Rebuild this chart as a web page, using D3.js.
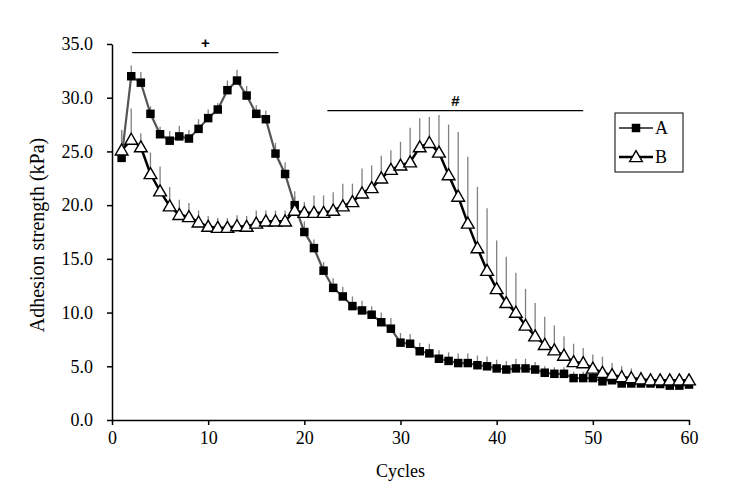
<!DOCTYPE html>
<html>
<head>
  <meta charset="utf-8">
  <title>adhesion-cycles</title>
  <style>
    body { margin: 0; background: #fff; }
    svg { display: block; }
    svg text { font-family: "Liberation Serif", "Times New Roman", Times, "DejaVu Serif", serif; fill: #000; }
    .axis path, .axis line { stroke: #000; stroke-width: 1.5px; }
    .axis text { font-size: 18px; }
  </style>
  <script src="https://cdn.jsdelivr.net/npm/d3@7"></script>
</head>
<body>
<script>

  // cycles 1..60
  var cycles = d3.range(1, 61);

  // series A (filled squares) mean and SD
  var meanA = [24.4, 32.0, 31.4, 28.5, 26.6, 26.0, 26.4, 26.2, 27.1, 28.1,
               28.9, 30.7, 31.6, 30.2, 28.5, 28.0, 24.8, 22.9, 20.0, 17.5,
               16.0, 13.9, 12.3, 11.5, 10.6, 10.2, 9.8, 9.1, 8.5, 7.2,
               7.1, 6.4, 6.2, 5.7, 5.5, 5.3, 5.3, 5.1, 5.0, 4.8,
               4.7, 4.8, 4.8, 4.7, 4.4, 4.3, 4.3, 3.9, 3.9, 3.9,
               3.6, 3.7, 3.4, 3.4, 3.4, 3.4, 3.35, 3.2, 3.2, 3.3];
  var sdA = [2.6, 1.0, 1.0, 0.7, 0.7, 0.9, 1.0, 0.8, 0.9, 0.8,
             0.6, 0.9, 1.0, 0.9, 0.8, 0.8, 1.0, 1.1, 1.3, 1.0,
             0.8, 0.8, 0.9, 0.9, 0.9, 0.9, 0.8, 0.9, 1.0, 0.9,
             0.9, 0.8, 0.9, 0.8, 0.8, 0.9, 0.9, 0.9, 0.9, 0.8,
             0.8, 0.9, 0.9, 0.7, 0.6, 0.6, 0.6, 0.6, 0.6, 0.6,
             0.6, 0.6, 0.6, 0.6, 0.6, 0.6, 0.6, 0.6, 0.6, 0.6];

  // series B (open triangles) mean and SD
  var meanB = [25.1, 26.1, 25.4, 22.9, 21.3, 19.9, 19.1, 18.9, 18.4, 18.0,
               17.9, 17.9, 18.05, 18.0, 18.3, 18.5, 18.5, 18.5, 19.5, 19.3,
               19.3, 19.3, 19.5, 19.9, 20.3, 21.1, 21.6, 22.5, 23.3, 23.7,
               24.0, 25.4, 25.8, 24.9, 22.8, 20.8, 18.3, 16.0, 13.9, 12.2,
               10.9, 10.0, 8.8, 7.8, 7.0, 6.5, 6.0, 5.4, 5.3, 4.8,
               4.4, 4.2, 4.0, 3.9, 3.8, 3.7, 3.7, 3.7, 3.7, 3.7];
  var sdB = [1.9, 2.9, 1.3, 2.0, 2.3, 1.8, 1.4, 1.3, 1.1, 1.0,
             0.9, 0.9, 1.0, 1.0, 1.2, 1.0, 1.0, 1.0, 1.3, 1.0,
             1.6, 1.6, 1.7, 2.1, 1.7, 2.3, 2.1, 2.1, 1.8, 2.2,
             3.2, 2.7, 2.4, 3.5, 4.7, 6.0, 6.2, 5.7, 5.8, 4.5,
             4.3, 3.7, 3.4, 3.1, 2.6, 2.3, 1.8, 1.7, 1.4, 1.3,
             1.5, 1.1, 1.0, 0.9, 0.7, 0.6, 0.6, 0.5, 0.5, 0.4];

  var xTicks = [0, 10, 20, 30, 40, 50, 60];
  var yTicks = [0, 5, 10, 15, 20, 25, 30, 35];

  // significance bars: [from cycle, to cycle, y level, symbol]
  var sigBars = [[2.1, 17.3, 34.2, "+"], [22.4, 49.0, 28.8, "#"]];

  var width = 750, height = 504;
  var margin = {top: 44, right: 61, bottom: 84, left: 112};
  var w = width - margin.left - margin.right;
  var h = height - margin.top - margin.bottom;

  var svg = d3.select("body").append("svg")
    .attr("width", width)
    .attr("height", height);

  var g = svg.append("g")
    .attr("transform", "translate(" + margin.left + "," + margin.top + ")");

  var x = d3.scaleLinear().domain([0, 60]).range([0, w]);
  var y = d3.scaleLinear().domain([0, 35]).range([h, 0]);

  g.append("g")
    .attr("class", "axis axis--x")
    .attr("transform", "translate(0," + h + ")")
    .call(d3.axisBottom(x).tickValues(xTicks).tickSize(5).tickSizeOuter(0).tickPadding(6).tickFormat(d3.format("d")));

  g.append("g")
    .attr("class", "axis axis--y")
    .call(d3.axisLeft(y).tickValues(yTicks).tickSize(5).tickSizeOuter(0).tickPadding(14).tickFormat(d3.format(".1f")));

  // d3 axis puts font-family="sans-serif" on the group, drop it
  g.selectAll(".axis").attr("font-family", null).attr("font-size", null);

  // axis titles
  svg.append("text")
    .attr("transform", "translate(44," + (margin.top + h / 2 + 3) + ") rotate(-90)")
    .attr("text-anchor", "middle")
    .style("font-size", "20px")
    .text("Adhesion strength (kPa)");

  svg.append("text")
    .attr("x", margin.left + w / 2)
    .attr("y", 477)
    .attr("text-anchor", "middle")
    .style("font-size", "18px")
    .text("Cycles");

  var dataA = cycles.map(function(c, i) { return {c: c, m: meanA[i], sd: sdA[i]}; });
  var dataB = cycles.map(function(c, i) { return {c: c, m: meanB[i], sd: sdB[i]}; });

  // error bars (upper only)
  function errBars(data) {
    g.append("g").selectAll("line")
      .data(data)
      .enter().append("line")
        .attr("x1", function(d) { return x(d.c); })
        .attr("x2", function(d) { return x(d.c); })
        .attr("y1", function(d) { return y(d.m); })
        .attr("y2", function(d) { return y(d.m + d.sd); })
        .attr("stroke", "#808080")
        .attr("stroke-width", 1.3);
  }
  errBars(dataA);
  errBars(dataB);

  var line = d3.line()
    .x(function(d) { return x(d.c); })
    .y(function(d) { return y(d.m); });

  // series A
  g.append("path")
    .datum(dataA)
    .attr("d", line)
    .attr("fill", "none")
    .attr("stroke", "#555")
    .attr("stroke-width", 2.2);

  var sq = d3.symbol().type(d3.symbolSquare).size(72);
  var tri = d3.symbol().type(d3.symbolTriangle).size(70);

  g.append("g").selectAll("path")
    .data(dataA)
    .enter().append("path")
      .attr("d", sq)
      .attr("transform", function(d) { return "translate(" + x(d.c) + "," + y(d.m) + ")"; })
      .attr("fill", "#000");

  // series B
  g.append("path")
    .datum(dataB)
    .attr("d", line)
    .attr("fill", "none")
    .attr("stroke", "#000")
    .attr("stroke-width", 2.5);

  g.append("g").selectAll("path")
    .data(dataB)
    .enter().append("path")
      .attr("d", tri)
      .attr("transform", function(d) { return "translate(" + x(d.c) + "," + (y(d.m) + 1) + ")"; })
      .attr("fill", "#fff")
      .attr("stroke", "#000")
      .attr("stroke-width", 1.4);

  // significance annotations
  sigBars.forEach(function(s) {
    g.append("line")
      .attr("x1", x(s[0])).attr("x2", x(s[1]))
      .attr("y1", y(s[2])).attr("y2", y(s[2]))
      .attr("stroke", "#000").attr("stroke-width", 1.3);
    g.append("text")
      .attr("x", (x(s[0]) + x(s[1])) / 2)
      .attr("y", y(s[2]) - 5)
      .attr("text-anchor", "middle")
      .style("font-size", "15px")
      .style("font-weight", "bold")
      .style("font-family", "Liberation Sans, Arial, sans-serif")
      .text(s[3]);
  });

  // legend
  var lg = svg.append("g").attr("transform", "translate(615,113)");
  lg.append("rect")
    .attr("width", 68).attr("height", 59)
    .attr("fill", "#fff").attr("stroke", "#000").attr("stroke-width", 1);

  var legendItems = [
    {name: "A", stroke: "#555", sw: 2.2, sym: sq, fill: "#000", outline: "none"},
    {name: "B", stroke: "#000", sw: 2.5, sym: tri, fill: "#fff", outline: "#000"}
  ];
  legendItems.forEach(function(it, i) {
    var yy = 15 + i * 29;
    lg.append("line")
      .attr("x1", 4).attr("x2", 38).attr("y1", yy).attr("y2", yy)
      .attr("stroke", it.stroke).attr("stroke-width", it.sw);
    lg.append("path")
      .attr("d", it.sym)
      .attr("transform", "translate(21," + (yy + (i ? 1 : 0)) + ")")
      .attr("fill", it.fill).attr("stroke", it.outline).attr("stroke-width", 1.4);
    lg.append("text")
      .attr("x", 40).attr("y", yy + 6)
      .style("font-size", "18px")
      .text(it.name);
  });

</script>
</body>
</html>
